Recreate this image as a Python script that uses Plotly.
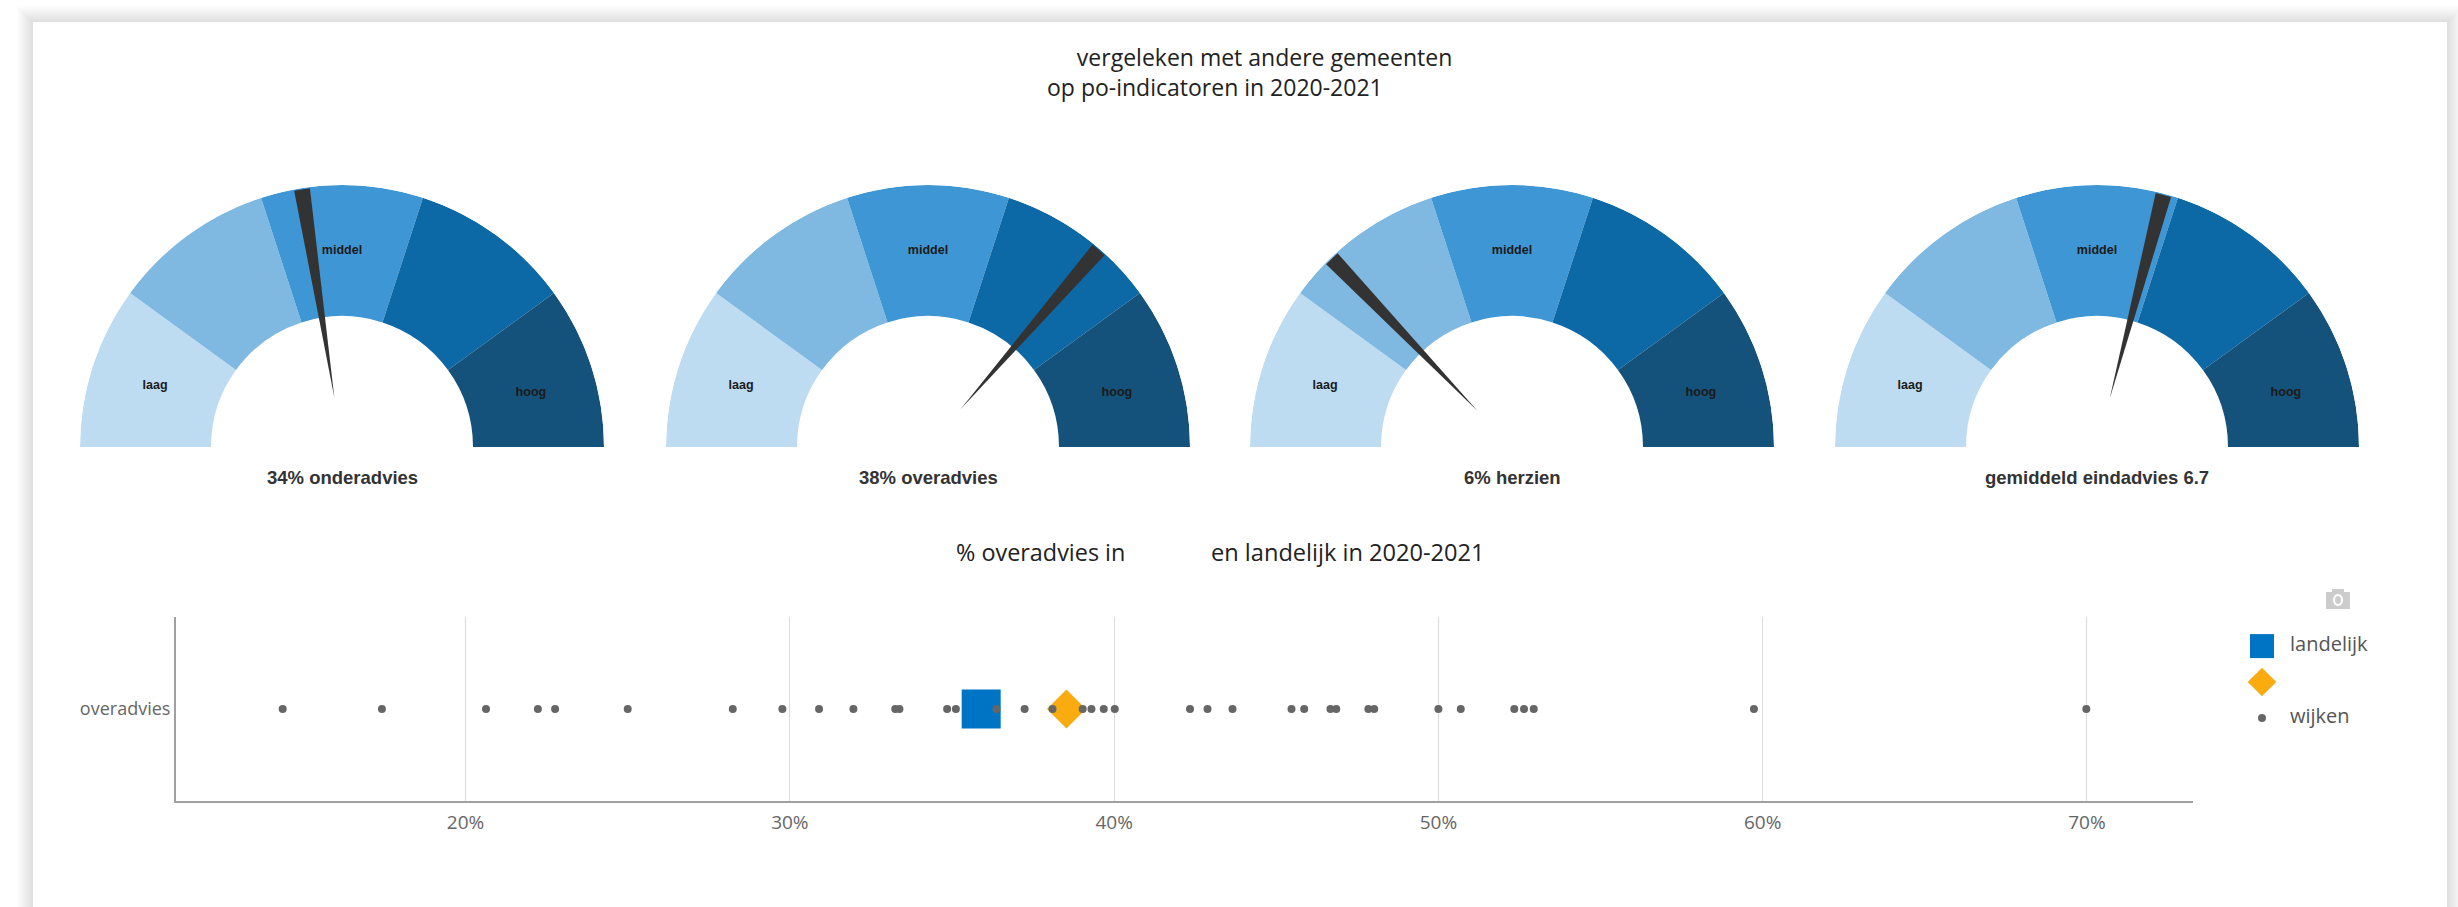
import plotly.graph_objects as go

W, H = 2458, 907

# ---- data ----
segment_labels = ["laag", "", "middel", "", "hoog"]
segment_colors = ["#BEDCF1", "#7FB9E1", "#3E97D4", "#0D69A6", "#15527B"]
gauge_titles = ["34% onderadvies", "38% overadvies", "6% herzien", "gemiddeld eindadvies 6.7"]
needle_values = [45.1, 72.7, 25.7, 58.2]

landelijk = [35.9]
gemeente = [38.53]
wijken = [14.36, 17.42, 20.63, 22.23, 22.76, 25.0, 28.24, 29.77, 30.9, 31.96, 33.25, 33.38,
          34.85, 35.12, 36.37, 37.24, 38.1, 39.03, 39.3, 39.68, 40.02, 42.34, 42.88, 43.65,
          45.47, 45.86, 46.67, 46.85, 47.84, 48.02, 50.0, 50.69, 52.34, 52.64, 52.94, 59.73, 69.98]
category = "overadvies"
x_ticks = [20, 30, 40, 50, 60, 70]
x_tick_labels = ["20%", "30%", "40%", "50%", "60%", "70%"]
legend_names = ["landelijk", "", "wijken"]

# ---- layout helpers (pixel -> paper) ----
def px(x):
    return x / W
def py(y):
    return 1 - y / H

FONT = "Open Sans, sans-serif"
GAUGE_FONT = "Liberation Sans, Arial, sans-serif"
gauge_cx = [342, 928, 1512, 2097]
gauge_cy, gauge_R = 447, 262
seg_width = 36
seg_theta = [180 - seg_width * (i + 0.5) for i in range(5)]
label_theta = seg_theta[:4] + [seg_theta[4] - 2]

fig = go.Figure()
layout = {}
annotations = []
for i, (cx, v, title) in enumerate(zip(gauge_cx, needle_values, gauge_titles)):
    name = "polar" if i == 0 else f"polar{i + 1}"
    layout[name] = dict(
        domain=dict(x=[px(cx - gauge_R), px(cx + gauge_R)], y=[py(gauge_cy), py(gauge_cy - gauge_R)]),
        sector=[0, 180], bgcolor="rgba(0,0,0,0)", barmode="overlay", bargap=0,
        angularaxis=dict(visible=False, direction="counterclockwise", rotation=0),
        radialaxis=dict(visible=False, range=[0, 1]),
    )
    fig.add_trace(go.Barpolar(
        r=[0.5] * 5, base=[0.5] * 5, theta=seg_theta, width=[seg_width] * 5,
        marker=dict(color=segment_colors, line=dict(width=0)),
        subplot=name, showlegend=False, hoverinfo="skip"))
    fig.add_trace(go.Scatterpolar(
        r=[0.75] * 5, theta=label_theta, text=segment_labels, mode="text",
        textfont=dict(family=GAUGE_FONT, size=12.5, color="#1a1a1a", weight="bold"),
        subplot=name, showlegend=False, hoverinfo="skip"))
    a = 180 - 1.8 * v
    fig.add_trace(go.Scatterpolar(
        r=[0.19, 0.995, 0.995, 0.19], theta=[a, a + 1.75, a - 1.75, a],
        mode="lines", fill="toself", fillcolor="#333333", line=dict(width=0, color="#333333"),
        subplot=name, showlegend=False, hoverinfo="skip"))
    annotations.append(dict(text=title, x=px(cx), y=py(478), xref="paper", yref="paper",
                            xanchor="center", yanchor="middle", showarrow=False,
                            font=dict(family=GAUGE_FONT, size=18.5, color="#333333", weight="bold")))

# strip plot
fig.add_trace(go.Scatter(x=landelijk, y=[category], name="landelijk", mode="markers", showlegend=False,
                         marker=dict(symbol="square", size=39, color="#0074C4")))
fig.add_trace(go.Scatter(x=gemeente, y=[category], name=" ", mode="markers", showlegend=False,
                         marker=dict(symbol="diamond", size=30, color="#F9AB10")))
fig.add_trace(go.Scatter(x=wijken, y=[category] * len(wijken), name="wijken", mode="markers", showlegend=False,
                         marker=dict(symbol="circle", size=8, color="#666666")))

# legend, drawn at the reference's marker sizes
leg_sym = ["square", "diamond", "circle"]
leg_size = [24, 22, 8]
leg_col = ["#0074C4", "#F9AB10", "#666666"]
for n, s, z, c in zip(legend_names, leg_sym, leg_size, leg_col):
    fig.add_trace(go.Scatter(x=[22], y=[n or " "], mode="markers", xaxis="x2", yaxis="y2", showlegend=False,
                             hoverinfo="skip", marker=dict(symbol=s, size=z, color=c)))
fig.add_trace(go.Scatter(x=[50] * 3, y=[n or " " for n in legend_names], text=legend_names, mode="text",
                         textposition="middle right", xaxis="x2", yaxis="y2", showlegend=False, hoverinfo="skip",
                         textfont=dict(family=FONT, size=20, color="#555555")))

# the two-line heading is one text block; line 1 starts a little further right
nbsp = "\u00a0"
for txt, x, y, size in [
    (nbsp * 5 + "vergeleken met andere gemeenten<br>op po-indicatoren in 2020-2021", 1045, 72, 23),
    ("% overadvies in", 954, 552, 23.4),
    ("en landelijk in 2020-2021", 1209, 552, 23.6),
]:
    annotations.append(dict(text=txt, x=px(x), y=py(y), xref="paper", yref="paper", xanchor="left",
                            yanchor="middle", align="left", showarrow=False,
                            font=dict(family=FONT, size=size, color="#222222")))

def rect(x0, y0, x1, y1, color, layer="above", kind="rect"):
    return dict(type=kind, xref="paper", yref="paper", x0=px(x0), x1=px(x1), y0=py(y0), y1=py(y1),
                fillcolor=color, line=dict(width=0), layer=layer)

# soft shadow round the white card
shapes = [rect(33 - k, 22 - k, 2447 + k, 907, "rgba(0,0,0,0.006)", "below") for k in range(16, 0, -1)]
shapes += [
    rect(33, 22, 2447, 907, "white", "below"),
    # camera icon
    rect(2326, 592, 2350, 609, "#CCCCCC"),
    rect(2332, 589, 2344, 593, "#CCCCCC"),
    rect(2333, 594, 2343, 606, "white", kind="circle"),
    rect(2335, 596, 2341, 604, "#CCCCCC", kind="circle"),
]

fig.update_layout(
    width=W, height=H, margin=dict(l=0, r=0, t=0, b=0), autosize=False,
    paper_bgcolor="white", plot_bgcolor="rgba(0,0,0,0)",
    showlegend=False, annotations=annotations, shapes=shapes,
    xaxis=dict(domain=[px(176), px(2193)], range=[11.07, 73.27], tickmode="array",
               tickvals=x_ticks, ticktext=x_tick_labels, ticklabelstandoff=3,
               showgrid=True, gridcolor="#DADADA", gridwidth=1, zeroline=False,
               showline=True, linecolor="#A0A0A0", linewidth=2, ticks="",
               tickfont=dict(family=FONT, size=19, color="#666666"), anchor="y"),
    yaxis=dict(domain=[py(801), py(617)], type="category", showgrid=False, zeroline=False,
               showline=True, linecolor="#A0A0A0", linewidth=2, ticks="",
               tickfont=dict(family=FONT, size=18, color="#666666"), anchor="x"),
    xaxis2=dict(domain=[px(2240), px(2400)], range=[0, 160], visible=False, anchor="y2", fixedrange=True),
    yaxis2=dict(domain=[py(728), py(626)], type="category", categoryorder="array",
                categoryarray=[n or " " for n in legend_names], autorange="reversed",
                visible=False, anchor="x2", fixedrange=True),
    **layout,
)

fig.write_html("out.html", config={"displayModeBar": False},
               post_script="document.body.style.margin='0';document.body.style.overflow='hidden';")
